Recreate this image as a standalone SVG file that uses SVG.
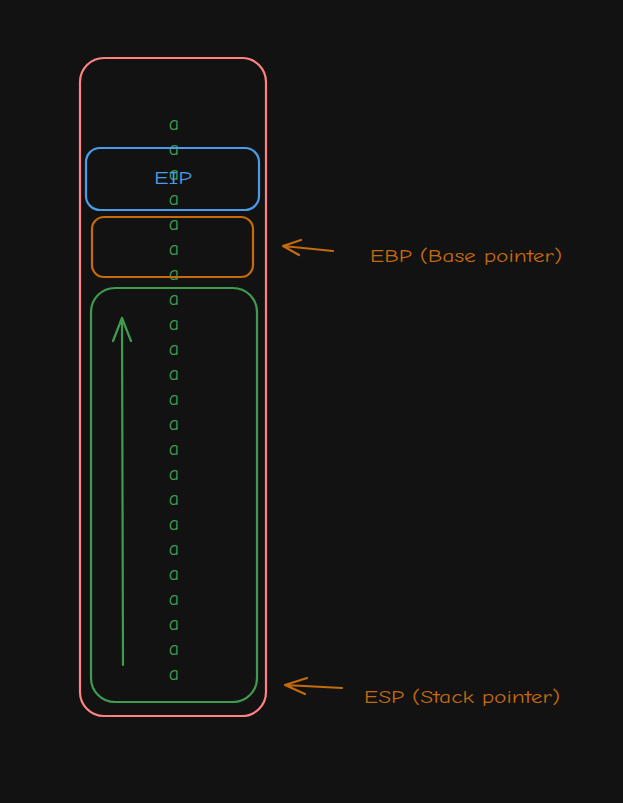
<svg xmlns="http://www.w3.org/2000/svg" width="623" height="803" viewBox="0 0 623 803">
<style>
.box{fill:none;stroke-width:2.2;stroke-linecap:round;stroke-linejoin:round}
.ln{fill:none;stroke-width:2.2;stroke-linecap:round;stroke-linejoin:round}
.lbl{font-family:"Comic Neue","Liberation Sans",sans-serif;font-size:17px}
.a{font-family:"Comic Neue","Liberation Sans",sans-serif;font-size:20px;fill:#3f9c4f;text-anchor:middle}
</style>
<rect width="623" height="803" fill="#121212"/>
<g id="stack-frame"><rect class="box" x="80" y="58" width="186" height="658" rx="24" stroke="#ff8383"/></g>
<g id="a-column">
<text class="a" x="174" y="130">a</text>
<text class="a" x="174" y="155">a</text>
<text class="a" x="174" y="180">a</text>
<text class="a" x="174" y="205">a</text>
<text class="a" x="174" y="230">a</text>
<text class="a" x="174" y="255">a</text>
<text class="a" x="174" y="280">a</text>
<text class="a" x="174" y="305">a</text>
<text class="a" x="174" y="330">a</text>
<text class="a" x="174" y="355">a</text>
<text class="a" x="174" y="380">a</text>
<text class="a" x="174" y="405">a</text>
<text class="a" x="174" y="430">a</text>
<text class="a" x="174" y="455">a</text>
<text class="a" x="174" y="480">a</text>
<text class="a" x="174" y="505">a</text>
<text class="a" x="174" y="530">a</text>
<text class="a" x="174" y="555">a</text>
<text class="a" x="174" y="580">a</text>
<text class="a" x="174" y="605">a</text>
<text class="a" x="174" y="630">a</text>
<text class="a" x="174" y="655">a</text>
<text class="a" x="174" y="680">a</text>
</g>
<g id="eip"><rect class="box" x="86" y="148" width="173" height="62" rx="14" stroke="#4a9ce8"/>
<text x="173" y="184" text-anchor="middle" font-family="Comic Neue,Liberation Sans,sans-serif" font-size="18" fill="#4a9ce8" textLength="38" lengthAdjust="spacingAndGlyphs">EIP</text></g>
<g id="ebp-box"><rect class="box" x="92" y="217" width="161" height="60" rx="12" stroke="#c56a0d"/></g>
<g id="esp-box"><rect class="box" x="91" y="288" width="166" height="414" rx="24" stroke="#3f9c4f"/></g>
<g id="connectors">
<path class="ln" stroke="#3f9c4f" d="M123 665 L122 318 M122 318 L113 341 M122 318 L131 341"/>
<path class="ln" stroke="#c56a0d" stroke-width="2.5" d="M333 251 L283 246 M283 246 L301 240 M283 246 L299 255"/>
<path class="ln" stroke="#c56a0d" stroke-width="2.5" d="M342 688 L285 685 M285 685 L307 678 M285 685 L305 694"/>
</g>
<g id="ebp-label"><text class="lbl" x="370" y="262" fill="#c56a0d" textLength="192" lengthAdjust="spacingAndGlyphs">EBP (Base pointer)</text></g>
<g id="esp-label"><text class="lbl" x="364" y="703" fill="#c56a0d" textLength="196" lengthAdjust="spacingAndGlyphs">ESP (Stack pointer)</text></g>
</svg>
